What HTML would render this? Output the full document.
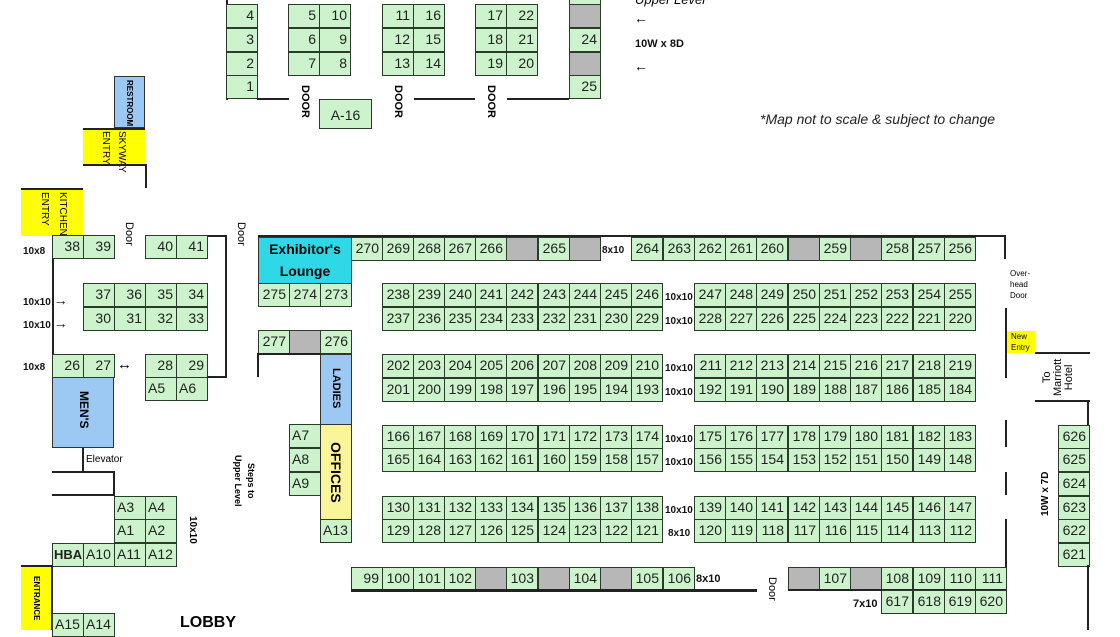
<!DOCTYPE html>
<html><head><meta charset="utf-8">
<style>
body{margin:0;width:1120px;height:630px;overflow:hidden;background:#fff;position:relative;font-family:"Liberation Sans",sans-serif}
.b{position:absolute;width:32px;height:24px;box-sizing:border-box;border:1.5px solid #2b3b2b;background:#ccf3cc;font-size:14px;text-align:right;padding-right:3px;line-height:21px;color:#222}
.a{text-align:left;padding-left:2px}
.g{background:#b7b7b7}
.l{position:absolute;background:#222}
.t{position:absolute;font-size:10px;font-weight:bold;color:#111;white-space:nowrap}
.v{position:absolute;white-space:nowrap;transform-origin:0 0;transform:rotate(90deg)}
.v2{position:absolute;white-space:nowrap;transform-origin:0 0;transform:rotate(-90deg)}
</style></head><body>

<!-- top section -->
<div class="l" style="left:226px;top:0;width:2px;height:100px"></div>
<div class="b" style="left:226px;top:4px">4</div>
<div class="b" style="left:226px;top:28px">3</div>
<div class="b" style="left:226px;top:52px">2</div>
<div class="b" style="left:226px;top:75px">1</div>
<div class="l" style="left:257px;top:98px;width:32px;height:2px"></div>
<div class="b" style="left:288px;top:4px">5</div><div class="b" style="left:319px;top:4px">10</div>
<div class="b" style="left:288px;top:28px">6</div><div class="b" style="left:319px;top:28px">9</div>
<div class="b" style="left:288px;top:52px">7</div><div class="b" style="left:319px;top:52px">8</div>
<div class="v" style="left:311px;top:85px;font-size:11px;font-weight:bold">DOOR</div>
<div class="b" style="left:319px;top:99px;width:53px;height:30px;text-align:center;line-height:30px;padding:0">A-16</div>
<div class="v" style="left:404px;top:85px;font-size:11px;font-weight:bold">DOOR</div>
<div class="b" style="left:382px;top:4px">11</div><div class="b" style="left:413px;top:4px">16</div>
<div class="b" style="left:382px;top:28px">12</div><div class="b" style="left:413px;top:28px">15</div>
<div class="b" style="left:382px;top:52px">13</div><div class="b" style="left:413px;top:52px">14</div>
<div class="l" style="left:414px;top:98px;width:61px;height:2px"></div>
<div class="v" style="left:497px;top:85px;font-size:11px;font-weight:bold">DOOR</div>
<div class="b" style="left:475px;top:4px">17</div><div class="b" style="left:506px;top:4px">22</div>
<div class="b" style="left:475px;top:28px">18</div><div class="b" style="left:506px;top:28px">21</div>
<div class="b" style="left:475px;top:52px">19</div><div class="b" style="left:506px;top:52px">20</div>
<div class="l" style="left:507px;top:98px;width:62px;height:2px"></div>
<div class="b" style="left:569px;top:-19px">23</div>
<div class="b g" style="left:569px;top:4px"></div>
<div class="b" style="left:569px;top:28px">24</div>
<div class="b g" style="left:569px;top:52px"></div>
<div class="b" style="left:569px;top:75px">25</div>
<div style="position:absolute;left:635px;top:-8px;font-size:13px;font-style:italic">Upper Level</div>
<div style="position:absolute;left:634px;top:10px;font-size:14px">&larr;</div>
<div class="t" style="left:635px;top:38px;font-size:11px">10W x 8D</div>
<div style="position:absolute;left:634px;top:58px;font-size:14px">&larr;</div>
<div style="position:absolute;left:760px;top:111px;font-size:14px;font-style:italic;color:#222">*Map not to scale &amp; subject to change</div>

<!-- restroom / skyway / kitchen -->
<div style="position:absolute;left:114px;top:76px;width:31px;height:52px;background:#9cc8f4;border:1.5px solid #333;box-sizing:border-box"></div>
<div class="v" style="left:134px;top:80px;font-size:8px;font-weight:bold">RESTROOM</div>
<div style="position:absolute;left:83px;top:128px;width:62px;height:37px;background:#ffff00"></div>
<div class="v" style="left:127px;top:131px;font-size:10px">SKYWAY</div>
<div class="v" style="left:111px;top:131px;font-size:10px">ENTRY</div>
<div class="l" style="left:83px;top:128px;width:62px;height:1.5px"></div>
<div class="l" style="left:83px;top:164px;width:62px;height:2px"></div>
<div class="l" style="left:145px;top:164px;width:2px;height:24px"></div>
<div style="position:absolute;left:21px;top:188px;width:62px;height:48px;background:#ffff00"></div>
<div class="l" style="left:21px;top:188px;width:62px;height:2px"></div>
<div class="v" style="left:68px;top:192px;font-size:10px">KITCHEN</div>
<div class="v" style="left:50px;top:192px;font-size:10px">ENTRY</div>

<!-- left room -->
<div class="l" style="left:52px;top:235px;width:62px;height:2px"></div>
<div class="l" style="left:52px;top:235px;width:2px;height:120px"></div>
<div class="t" style="left:23px;top:246px">10x8</div>
<div class="b" style="left:52px;top:235px">38</div><div class="b" style="left:83px;top:235px">39</div>
<div class="v" style="left:135px;top:222px;font-size:11px">Door</div>
<div class="l" style="left:145px;top:235px;width:82px;height:2px"></div>
<div class="b" style="left:145px;top:235px">40</div><div class="b" style="left:176px;top:235px">41</div>
<div class="l" style="left:225px;top:235px;width:2px;height:143px"></div>
<div class="v" style="left:247px;top:222px;font-size:11px">Door</div>
<div class="t" style="left:23px;top:292px">10x10 <span style="font-size:14px;font-weight:normal">&rarr;</span></div>
<div class="t" style="left:23px;top:315px">10x10 <span style="font-size:14px;font-weight:normal">&rarr;</span></div>
<div class="b" style="left:83px;top:283px">37</div><div class="b" style="left:114px;top:283px">36</div><div class="b" style="left:145px;top:283px">35</div><div class="b" style="left:176px;top:283px">34</div>
<div class="b" style="left:83px;top:307px">30</div><div class="b" style="left:114px;top:307px">31</div><div class="b" style="left:145px;top:307px">32</div><div class="b" style="left:176px;top:307px">33</div>
<div class="t" style="left:23px;top:362px">10x8</div>
<div class="b" style="left:52px;top:354px">26</div><div class="b" style="left:83px;top:354px">27</div>
<div style="position:absolute;left:117px;top:356px;font-size:15px">&harr;</div>
<div class="b" style="left:145px;top:354px">28</div><div class="b" style="left:176px;top:354px">29</div>
<div class="l" style="left:207px;top:376px;width:20px;height:2px"></div>
<div class="b a" style="left:145px;top:377px">A5</div><div class="b a" style="left:176px;top:377px">A6</div>
<div style="position:absolute;left:52px;top:377px;width:62px;height:71px;background:#9cc8f4;border:1.5px solid #333;box-sizing:border-box"></div>
<div class="v" style="left:91px;top:391px;font-size:12px;font-weight:bold">MEN'S</div>
<div class="l" style="left:82px;top:448px;width:2px;height:24px"></div>
<div style="position:absolute;left:86px;top:454px;font-size:10px">Elevator</div>
<div class="l" style="left:52px;top:471px;width:63px;height:2px"></div>
<div class="l" style="left:113px;top:471px;width:2px;height:25px"></div>
<div class="l" style="left:52px;top:494px;width:62px;height:1.5px"></div>
<div class="b a" style="left:114px;top:496px">A3</div><div class="b a" style="left:145px;top:496px">A4</div>
<div class="b a" style="left:114px;top:519px">A1</div><div class="b a" style="left:145px;top:519px">A2</div>
<div class="b a" style="left:52px;top:543px;font-weight:bold;font-size:13px;padding-left:1px">HBA</div>
<div class="b a" style="left:83px;top:543px">A10</div><div class="b a" style="left:114px;top:543px">A11</div><div class="b a" style="left:145px;top:543px">A12</div>
<div class="v" style="left:198px;top:516px;font-size:10px;font-weight:bold">10x10</div>
<div class="l" style="left:21px;top:565px;width:32px;height:2px"></div>
<div style="position:absolute;left:21px;top:567px;width:31px;height:63px;background:#ffff00"></div>
<div class="l" style="left:51px;top:565px;width:2px;height:65px"></div>
<div class="v" style="left:41px;top:576px;font-size:8px;font-weight:bold">ENTRANCE</div>
<div class="b a" style="left:52px;top:613px">A15</div><div class="b a" style="left:83px;top:613px">A14</div>
<div style="position:absolute;left:180px;top:614px;font-size:16px;font-weight:bold">LOBBY</div>
<div class="v" style="left:256px;top:463px;font-size:9px;font-weight:bold">Steps to</div>
<div class="v" style="left:243px;top:455px;font-size:9px;font-weight:bold">Upper Level</div>

<!-- middle column -->
<div style="position:absolute;left:258px;top:237px;width:94px;height:47px;background:#2fd8e6;border:1.5px solid #333;box-sizing:border-box;text-align:center;font-size:14px;font-weight:bold;line-height:22px">Exhibitor's<br>Lounge</div>
<div class="b" style="left:258px;top:283px">275</div><div class="b" style="left:289px;top:283px">274</div><div class="b" style="left:320px;top:283px">273</div>
<div class="b" style="left:258px;top:330px">277</div><div class="b g" style="left:289px;top:330px"></div><div class="b" style="left:320px;top:330px">276</div>
<div class="l" style="left:257px;top:353px;width:64px;height:2px"></div>
<div class="l" style="left:257px;top:353px;width:2px;height:24px"></div>
<div style="position:absolute;left:320px;top:354px;width:32px;height:71px;background:#9cc8f4;border:1.5px solid #333;box-sizing:border-box"></div>
<div class="v" style="left:342px;top:368px;font-size:11px;font-weight:bold">LADIES</div>
<div class="b a" style="left:289px;top:424px">A7</div>
<div class="b a" style="left:289px;top:448px">A8</div>
<div class="b a" style="left:289px;top:472px">A9</div>
<div style="position:absolute;left:320px;top:424px;width:32px;height:96px;background:#fbf59a;border:1.5px solid #333;box-sizing:border-box"></div>
<div class="v" style="left:344px;top:442px;font-size:14px;font-weight:bold">OFFICES</div>
<div class="b a" style="left:320px;top:519px">A13</div>

<!-- top main row -->
<div class="l" style="left:258px;top:235px;width:748px;height:2px"></div>
<div class="l" style="left:1004px;top:235px;width:2px;height:24px"></div>
<div class="b" style="left:351px;top:237px">270</div>
<div class="b" style="left:382px;top:237px">269</div>
<div class="b" style="left:413px;top:237px">268</div>
<div class="b" style="left:444px;top:237px">267</div>
<div class="b" style="left:475px;top:237px">266</div>
<div class="b g" style="left:506px;top:237px"></div>
<div class="b" style="left:538px;top:237px">265</div>
<div class="b g" style="left:569px;top:237px"></div>
<div class="t" style="left:602px;top:245px">8x10</div>
<div class="b" style="left:631px;top:237px">264</div>
<div class="b" style="left:663px;top:237px">263</div>
<div class="b" style="left:694px;top:237px">262</div>
<div class="b" style="left:725px;top:237px">261</div>
<div class="b" style="left:756px;top:237px">260</div>
<div class="b g" style="left:788px;top:237px"></div>
<div class="b" style="left:819px;top:237px">259</div>
<div class="b g" style="left:850px;top:237px"></div>
<div class="b" style="left:881px;top:237px">258</div>
<div class="b" style="left:913px;top:237px">257</div>
<div class="b" style="left:944px;top:237px">256</div>

<!-- rows A/B -->
<div class="b" style="left:382px;top:283px">238</div><div class="b" style="left:413px;top:283px">239</div><div class="b" style="left:444px;top:283px">240</div><div class="b" style="left:475px;top:283px">241</div><div class="b" style="left:506px;top:283px">242</div><div class="b" style="left:538px;top:283px">243</div><div class="b" style="left:569px;top:283px">244</div><div class="b" style="left:600px;top:283px">245</div><div class="b" style="left:631px;top:283px">246</div>
<div class="t" style="left:665px;top:292px">10x10</div>
<div class="b" style="left:694px;top:283px">247</div><div class="b" style="left:725px;top:283px">248</div><div class="b" style="left:756px;top:283px">249</div><div class="b" style="left:788px;top:283px">250</div><div class="b" style="left:819px;top:283px">251</div><div class="b" style="left:850px;top:283px">252</div><div class="b" style="left:881px;top:283px">253</div><div class="b" style="left:913px;top:283px">254</div><div class="b" style="left:944px;top:283px">255</div>
<div class="b" style="left:382px;top:307px">237</div><div class="b" style="left:413px;top:307px">236</div><div class="b" style="left:444px;top:307px">235</div><div class="b" style="left:475px;top:307px">234</div><div class="b" style="left:506px;top:307px">233</div><div class="b" style="left:538px;top:307px">232</div><div class="b" style="left:569px;top:307px">231</div><div class="b" style="left:600px;top:307px">230</div><div class="b" style="left:631px;top:307px">229</div>
<div class="t" style="left:665px;top:316px">10x10</div>
<div class="b" style="left:694px;top:307px">228</div><div class="b" style="left:725px;top:307px">227</div><div class="b" style="left:756px;top:307px">226</div><div class="b" style="left:788px;top:307px">225</div><div class="b" style="left:819px;top:307px">224</div><div class="b" style="left:850px;top:307px">223</div><div class="b" style="left:881px;top:307px">222</div><div class="b" style="left:913px;top:307px">221</div><div class="b" style="left:944px;top:307px">220</div>

<!-- rows C/D -->
<div class="b" style="left:382px;top:354px">202</div><div class="b" style="left:413px;top:354px">203</div><div class="b" style="left:444px;top:354px">204</div><div class="b" style="left:475px;top:354px">205</div><div class="b" style="left:506px;top:354px">206</div><div class="b" style="left:538px;top:354px">207</div><div class="b" style="left:569px;top:354px">208</div><div class="b" style="left:600px;top:354px">209</div><div class="b" style="left:631px;top:354px">210</div>
<div class="t" style="left:665px;top:363px">10x10</div>
<div class="b" style="left:694px;top:354px">211</div><div class="b" style="left:725px;top:354px">212</div><div class="b" style="left:756px;top:354px">213</div><div class="b" style="left:788px;top:354px">214</div><div class="b" style="left:819px;top:354px">215</div><div class="b" style="left:850px;top:354px">216</div><div class="b" style="left:881px;top:354px">217</div><div class="b" style="left:913px;top:354px">218</div><div class="b" style="left:944px;top:354px">219</div>
<div class="b" style="left:382px;top:378px">201</div><div class="b" style="left:413px;top:378px">200</div><div class="b" style="left:444px;top:378px">199</div><div class="b" style="left:475px;top:378px">198</div><div class="b" style="left:506px;top:378px">197</div><div class="b" style="left:538px;top:378px">196</div><div class="b" style="left:569px;top:378px">195</div><div class="b" style="left:600px;top:378px">194</div><div class="b" style="left:631px;top:378px">193</div>
<div class="t" style="left:665px;top:387px">10x10</div>
<div class="b" style="left:694px;top:378px">192</div><div class="b" style="left:725px;top:378px">191</div><div class="b" style="left:756px;top:378px">190</div><div class="b" style="left:788px;top:378px">189</div><div class="b" style="left:819px;top:378px">188</div><div class="b" style="left:850px;top:378px">187</div><div class="b" style="left:881px;top:378px">186</div><div class="b" style="left:913px;top:378px">185</div><div class="b" style="left:944px;top:378px">184</div>

<!-- rows E/F -->
<div class="b" style="left:382px;top:425px">166</div><div class="b" style="left:413px;top:425px">167</div><div class="b" style="left:444px;top:425px">168</div><div class="b" style="left:475px;top:425px">169</div><div class="b" style="left:506px;top:425px">170</div><div class="b" style="left:538px;top:425px">171</div><div class="b" style="left:569px;top:425px">172</div><div class="b" style="left:600px;top:425px">173</div><div class="b" style="left:631px;top:425px">174</div>
<div class="t" style="left:665px;top:434px">10x10</div>
<div class="b" style="left:694px;top:425px">175</div><div class="b" style="left:725px;top:425px">176</div><div class="b" style="left:756px;top:425px">177</div><div class="b" style="left:788px;top:425px">178</div><div class="b" style="left:819px;top:425px">179</div><div class="b" style="left:850px;top:425px">180</div><div class="b" style="left:881px;top:425px">181</div><div class="b" style="left:913px;top:425px">182</div><div class="b" style="left:944px;top:425px">183</div>
<div class="b" style="left:382px;top:448px">165</div><div class="b" style="left:413px;top:448px">164</div><div class="b" style="left:444px;top:448px">163</div><div class="b" style="left:475px;top:448px">162</div><div class="b" style="left:506px;top:448px">161</div><div class="b" style="left:538px;top:448px">160</div><div class="b" style="left:569px;top:448px">159</div><div class="b" style="left:600px;top:448px">158</div><div class="b" style="left:631px;top:448px">157</div>
<div class="t" style="left:665px;top:457px">10x10</div>
<div class="b" style="left:694px;top:448px">156</div><div class="b" style="left:725px;top:448px">155</div><div class="b" style="left:756px;top:448px">154</div><div class="b" style="left:788px;top:448px">153</div><div class="b" style="left:819px;top:448px">152</div><div class="b" style="left:850px;top:448px">151</div><div class="b" style="left:881px;top:448px">150</div><div class="b" style="left:913px;top:448px">149</div><div class="b" style="left:944px;top:448px">148</div>

<!-- rows G/H -->
<div class="b" style="left:382px;top:496px">130</div><div class="b" style="left:413px;top:496px">131</div><div class="b" style="left:444px;top:496px">132</div><div class="b" style="left:475px;top:496px">133</div><div class="b" style="left:506px;top:496px">134</div><div class="b" style="left:538px;top:496px">135</div><div class="b" style="left:569px;top:496px">136</div><div class="b" style="left:600px;top:496px">137</div><div class="b" style="left:631px;top:496px">138</div>
<div class="t" style="left:665px;top:505px">10x10</div>
<div class="b" style="left:694px;top:496px">139</div><div class="b" style="left:725px;top:496px">140</div><div class="b" style="left:756px;top:496px">141</div><div class="b" style="left:788px;top:496px">142</div><div class="b" style="left:819px;top:496px">143</div><div class="b" style="left:850px;top:496px">144</div><div class="b" style="left:881px;top:496px">145</div><div class="b" style="left:913px;top:496px">146</div><div class="b" style="left:944px;top:496px">147</div>
<div class="b" style="left:382px;top:519px">129</div><div class="b" style="left:413px;top:519px">128</div><div class="b" style="left:444px;top:519px">127</div><div class="b" style="left:475px;top:519px">126</div><div class="b" style="left:506px;top:519px">125</div><div class="b" style="left:538px;top:519px">124</div><div class="b" style="left:569px;top:519px">123</div><div class="b" style="left:600px;top:519px">122</div><div class="b" style="left:631px;top:519px">121</div>
<div class="t" style="left:668px;top:528px">8x10</div>
<div class="b" style="left:694px;top:519px">120</div><div class="b" style="left:725px;top:519px">119</div><div class="b" style="left:756px;top:519px">118</div><div class="b" style="left:788px;top:519px">117</div><div class="b" style="left:819px;top:519px">116</div><div class="b" style="left:850px;top:519px">115</div><div class="b" style="left:881px;top:519px">114</div><div class="b" style="left:913px;top:519px">113</div><div class="b" style="left:944px;top:519px">112</div>

<!-- bottom row -->
<div class="b" style="left:351px;top:567px">99</div>
<div class="b" style="left:382px;top:567px">100</div>
<div class="b" style="left:413px;top:567px">101</div>
<div class="b" style="left:444px;top:567px">102</div>
<div class="b g" style="left:475px;top:567px"></div>
<div class="b" style="left:506px;top:567px">103</div>
<div class="b g" style="left:538px;top:567px"></div>
<div class="b" style="left:569px;top:567px">104</div>
<div class="b g" style="left:600px;top:567px"></div>
<div class="b" style="left:631px;top:567px">105</div>
<div class="b" style="left:663px;top:567px">106</div>
<div class="t" style="left:696px;top:573px;font-size:11px">8x10</div>
<div class="l" style="left:351px;top:589px;width:406px;height:3px"></div>
<div class="v" style="left:778px;top:577px;font-size:11px">Door</div>
<div class="b g" style="left:788px;top:567px"></div>
<div class="b" style="left:819px;top:567px">107</div>
<div class="b g" style="left:850px;top:567px"></div>
<div class="b" style="left:881px;top:567px">108</div>
<div class="b" style="left:913px;top:567px">109</div>
<div class="b" style="left:944px;top:567px">110</div>
<div class="b" style="left:975px;top:567px">111</div>
<div class="l" style="left:788px;top:589px;width:219px;height:2px"></div>
<div class="t" style="left:853px;top:598px;font-size:11px">7x10</div>
<div class="b" style="left:881px;top:590px">617</div>
<div class="b" style="left:913px;top:590px">618</div>
<div class="b" style="left:944px;top:590px">619</div>
<div class="b" style="left:975px;top:590px">620</div>

<!-- right side -->
<div style="position:absolute;left:1010px;top:268px;font-size:8px;line-height:11px">Over-<br>head<br>Door</div>
<div class="l" style="left:1005px;top:308px;width:2px;height:70px"></div>
<div style="position:absolute;left:1007px;top:331px;width:28px;height:22px;background:#ffff00;font-size:8px;line-height:11px;padding-left:4px;box-sizing:border-box">New<br>Entry</div>
<div class="l" style="left:1035px;top:352px;width:55px;height:2px"></div>
<div class="v2" style="left:1042px;top:396px;font-size:11px;line-height:11px;text-align:center">To<br>Marriott<br>Hotel</div>
<div class="l" style="left:1035px;top:400px;width:55px;height:2px"></div>
<div class="l" style="left:1005px;top:420px;width:2px;height:27px"></div>
<div class="l" style="left:1005px;top:472px;width:2px;height:23px"></div>
<div class="l" style="left:1005px;top:519px;width:2px;height:48px"></div>
<div class="v2" style="left:1040px;top:516px;font-size:10px;font-weight:bold">10W x 7D</div>
<div class="b" style="left:1058px;top:425px">626</div>
<div class="b" style="left:1058px;top:448px">625</div>
<div class="b" style="left:1058px;top:472px">624</div>
<div class="b" style="left:1058px;top:496px">623</div>
<div class="b" style="left:1058px;top:519px">622</div>
<div class="b" style="left:1058px;top:543px">621</div>
<div class="l" style="left:1087px;top:565px;width:2px;height:65px"></div>
<div class="l" style="left:1087px;top:402px;width:2px;height:23px"></div>
</body></html>
